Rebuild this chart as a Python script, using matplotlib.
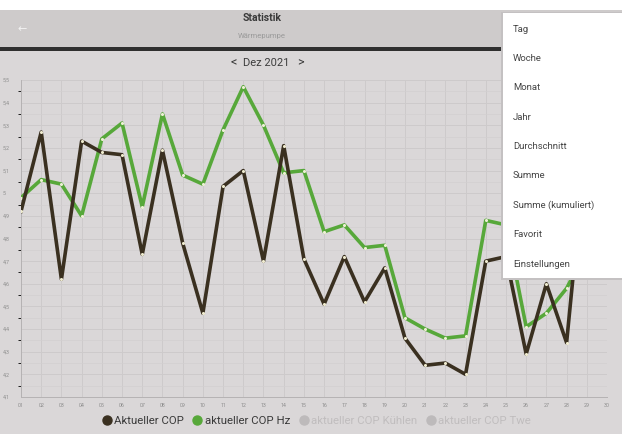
import matplotlib
matplotlib.use("Agg")
import matplotlib.pyplot as plt
from matplotlib.patches import Rectangle
from matplotlib.lines import Line2D
import numpy as np

plt.rcParams["font.family"] = ["Roboto", "DejaVu Sans"]

days = list(range(1, 30))
day_labels = [f"{d:02d}" for d in range(1, 31)]
cop = [4.92, 5.27, 4.62, 5.23, 5.18, 5.17, 4.73, 5.19, 4.78, 4.47,
       5.03, 5.10, 4.70, 5.21, 4.71, 4.51, 4.72, 4.52, 4.67, 4.36,
       4.24, 4.25, 4.20, 4.70, 4.72, 4.29, 4.60, 4.34, 5.25]
cop_hz = [4.98, 5.06, 5.04, 4.90, 5.24, 5.31, 4.94, 5.35, 5.08, 5.04,
          5.28, 5.47, 5.30, 5.09, 5.10, 4.83, 4.86, 4.76, 4.77, 4.45,
          4.40, 4.36, 4.37, 4.88, 4.86, 4.41, 4.47, 4.58, 4.75]
y_ticks = [4.1, 4.2, 4.3, 4.4, 4.5, 4.6, 4.7, 4.8, 4.9, 5.0, 5.1, 5.2, 5.3, 5.4, 5.5]
legend_labels = ["Aktueller COP", "aktueller COP Hz", "aktueller COP Kühlen", "aktueller COP Twe"]
menu_items = ["Tag", "Woche", "Monat", "Jahr", "Durchschnitt", "Summe",
              "Summe (kumuliert)", "Favorit", "Einstellungen"]

W, H = 622, 434
fig = plt.figure(figsize=(W / 100, H / 100), dpi=100)
fig.patch.set_facecolor("#dad7d8")


def fx(px):
    return px / W


def fy(py):
    return 1 - py / H


# app chrome
fig.add_artist(Rectangle((0, fy(10)), 1, 10 / H, transform=fig.transFigure,
                         facecolor="white", edgecolor="none", zorder=1))
fig.add_artist(Rectangle((0, fy(47)), 1, 37 / H, transform=fig.transFigure,
                         facecolor="#cecbcb", edgecolor="none", zorder=1))
fig.add_artist(Rectangle((0, fy(50.5)), 1, 3.5 / H, transform=fig.transFigure,
                         facecolor="#2f2f2f", edgecolor="none", zorder=1))
fig.text(fx(22), fy(29), "\u2190", color="#f2f2f2", fontsize=8, ha="center", va="center",
         family=["DejaVu Sans"])
fig.text(fx(262), fy(18), "Statistik", fontsize=7.5, fontweight="bold", color="#3a3a3a",
         ha="center", va="center")
fig.text(fx(262), fy(36), "Wärmepumpe", fontsize=5.5, color="#9a9a9a",
         ha="center", va="center")
fig.text(fx(266), fy(63), "Dez 2021", fontsize=8, color="#3c3c3c", ha="center", va="center")
fig.text(fx(234), fy(63), "<", fontsize=9, color="#3c3c3c", ha="center", va="center")
fig.text(fx(300), fy(63), ">", fontsize=9, color="#3c3c3c", ha="center", va="center")

# chart
ax = fig.add_axes([fx(21), fy(397), fx(607) - fx(21), fy(80) - fy(397)])
ax.set_facecolor("#dad7d8")
ax.set_xlim(1, 30)
ax.set_ylim(4.1, 5.5)
ax.set_xticks(range(1, 31))
ax.set_xticklabels(day_labels)
ax.set_yticks(y_ticks)
ax.set_yticklabels([f"{v:.1f}".replace(".0", "").replace(".", ",") for v in y_ticks])
ax.set_yticks(np.arange(4.15, 5.5, 0.1), minor=True)
ax.tick_params(axis="both", length=0, labelsize=3.8, labelcolor="#8c8c8c", pad=4)
for lab in ax.get_yticklabels():
    lab.set_horizontalalignment("left")
ax.tick_params(axis="y", pad=13)
ax.grid(True, which="major", color="#cdcacb", linewidth=0.7)
ax.grid(True, which="minor", axis="y", color="#d2cfd0", linewidth=0.5)
for side in ["top", "right"]:
    ax.spines[side].set_visible(False)
ax.spines["left"].set_color("#b5b2b3")
ax.spines["bottom"].set_color("#b5b2b3")
ax.spines["left"].set_linewidth(0.7)
ax.spines["bottom"].set_linewidth(0.7)

ax.plot(days, cop_hz, color="#57a83a", linewidth=2.6, zorder=3,
        marker="o", markersize=2.2, markerfacecolor="#eef0d6", markeredgewidth=0)
ax.plot(days, cop, color="#3a3020", linewidth=2.6, zorder=4,
        marker="o", markersize=2.2, markerfacecolor="#f0ecd0", markeredgewidth=0)

# legend
handles = [
    Line2D([], [], linestyle="none", marker="o", markersize=6.5, color="#3a3020"),
    Line2D([], [], linestyle="none", marker="o", markersize=6.5, color="#57a83a"),
    Line2D([], [], linestyle="none", marker="o", markersize=6.5, color="#bdbabb"),
    Line2D([], [], linestyle="none", marker="o", markersize=6.5, color="#bdbabb"),
]
leg = fig.legend(handles, legend_labels, loc="center", bbox_to_anchor=(fx(316), fy(421)),
                 ncol=4, frameon=False, fontsize=8.2, handletextpad=0.15,
                 columnspacing=0.7, handlelength=1.0)
for t, c in zip(leg.get_texts(), ["#3a3a3a", "#3a3a3a", "#c0bdbe", "#c0bdbe"]):
    t.set_color(c)

# dropdown menu
fig.add_artist(Rectangle((fx(501), fy(280)), 1, (280 - 12) / H, transform=fig.transFigure,
                         facecolor="#c4c1c2", edgecolor="none", zorder=9))
fig.add_artist(Rectangle((fx(503), fy(278)), 1, (278 - 13) / H, transform=fig.transFigure,
                         facecolor="white", edgecolor="none", zorder=10))
for i, item in enumerate(menu_items):
    fig.text(fx(513), fy(29 + i * 29.4), item, fontsize=6.8, color="#444444",
             ha="left", va="center", zorder=11)

fig.savefig("out.png", dpi=100)
